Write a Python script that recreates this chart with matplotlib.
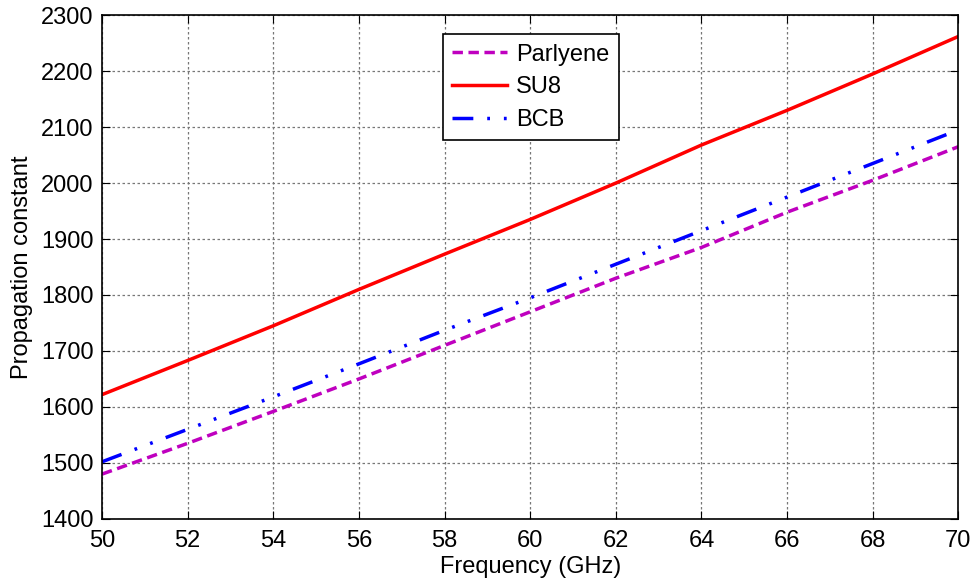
import matplotlib.pyplot as plt

plt.rcParams['font.family'] = ['Liberation Sans', 'DejaVu Sans']

freq = [50, 52, 54, 56, 58, 60, 62, 64, 66, 68, 70]
parlyene = [1480, 1535, 1592, 1650, 1710, 1770, 1830, 1885, 1948, 2005, 2065]
su8 = [1622, 1683, 1745, 1810, 1873, 1935, 2000, 2068, 2130, 2195, 2262]
bcb = [1502, 1560, 1618, 1677, 1737, 1795, 1855, 1915, 1975, 2035, 2095]

fig = plt.figure(figsize=(9.72, 5.83), dpi=100)
ax = fig.add_axes([0.105, 0.110, 0.881, 0.864])

ax.plot(freq, parlyene, color='#bf00bf', lw=2.5, linestyle=(0, (3, 1.6)), label='Parlyene')
ax.plot(freq, su8, color='red', lw=2.5, label='SU8')
ax.plot(freq, bcb, color='blue', lw=2.5, linestyle=(0, (6, 4, 0.8, 4, 0.8, 4)), label='BCB')

ax.set_xlim(50, 70)
ax.set_ylim(1400, 2300)
ax.set_xticks(range(50, 71, 2))
ax.set_yticks(range(1400, 2301, 100))
ax.grid(True, color='#777777', linestyle=(0, (2, 2)), linewidth=0.9)
ax.tick_params(axis='both', direction='in', labelsize=17, length=6, top=True, right=True)
ax.tick_params(axis='x', pad=8)
ax.tick_params(axis='y', pad=6)
for s in ax.spines.values():
    s.set_linewidth(1.2)

ax.set_xlabel('Frequency (GHz)', fontsize=17, labelpad=3)
ax.set_ylabel('Propagation constant', fontsize=17, labelpad=6)

leg = ax.legend(loc='upper left', bbox_to_anchor=(0.398, 0.962), borderaxespad=0,
                fontsize=17, fancybox=False, framealpha=1, edgecolor='black',
                handlelength=2.3, borderpad=0.4, labelspacing=0.45, handletextpad=0.4)
leg.get_frame().set_linewidth(1.2)

fig.savefig('out.png', dpi=100)
